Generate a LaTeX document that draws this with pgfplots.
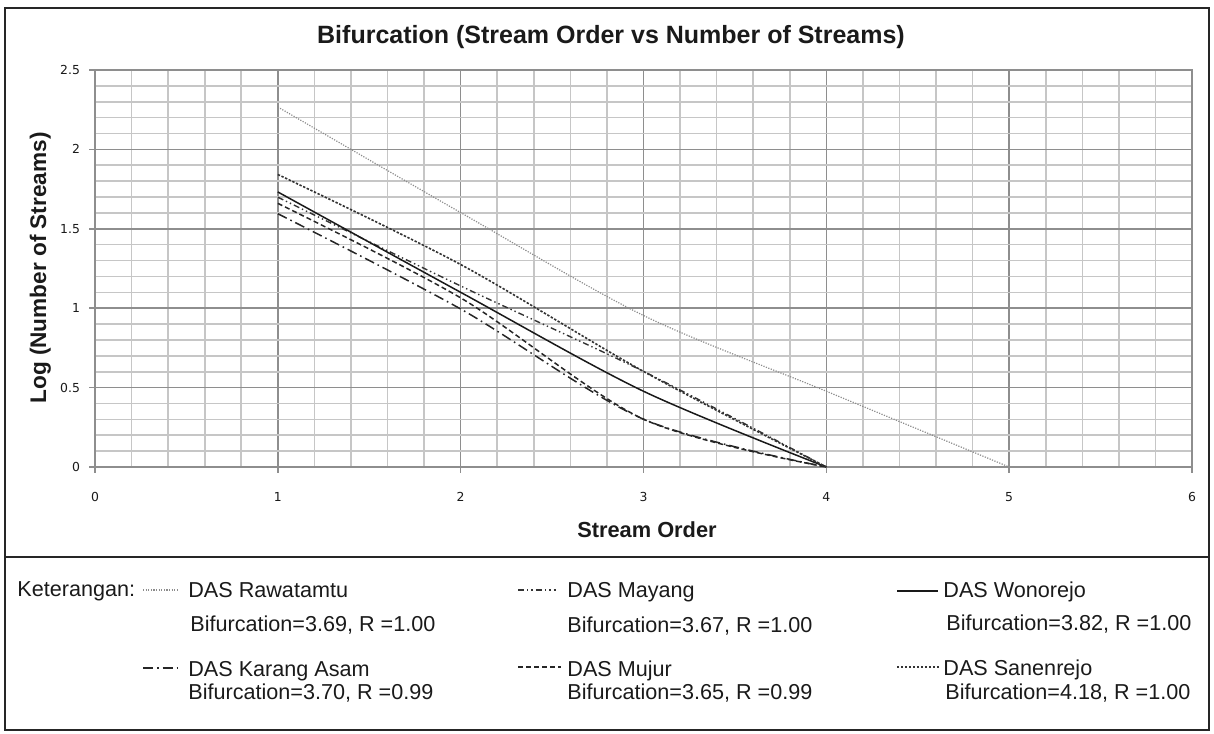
\documentclass[border=0pt]{standalone}
\usepackage{pgfplots}
\pgfplotsset{compat=1.18}
\usepackage{fontspec}
\setmainfont{Liberation Sans}
\newfontfamily\tickfont{DejaVu Sans}
\definecolor{majgrid}{HTML}{8E8E8E}
\definecolor{mingrid}{HTML}{C6C6C6}
\definecolor{txt}{HTML}{1A1A1A}
\tikzset{
  raw/.style={color=black!45, line width=0.6pt, dash pattern=on 0.6pt off 0.7pt},
  may/.style={color=black!80, line width=0.7pt, dash pattern=on 3pt off 1.5pt on 0.7pt off 1.5pt on 0.7pt off 1.5pt},
  won/.style={color=black!90, line width=0.75pt},
  kar/.style={color=black!85, line width=0.75pt, dash pattern=on 5pt off 2pt on 0.8pt off 2pt},
  muj/.style={color=black!85, line width=0.75pt, dash pattern=on 2.5pt off 1.5pt},
  san/.style={color=black!80, line width=0.8pt, dash pattern=on 1.2pt off 0.8pt},
}
\begin{document}
\begin{tikzpicture}
\path[use as bounding box] (0,0) rectangle (607pt,366.5pt);
\begin{axis}[
  at={(47.5pt,133pt)}, anchor=south west,
  scale only axis, width=548.5pt, height=198.5pt,
  xmin=0, xmax=6, ymin=0, ymax=2.5,
  xtick={0,1,2,3,4,5,6}, xticklabels={0,1,2,3,4,5,6},
  ytick={0,0.5,1,1.5,2,2.5}, yticklabels={0,0.5,1,1.5,2,2.5},
  minor x tick num=4, minor y tick num=4,
  grid=both,
  major grid style={majgrid, line width=0.8pt},
  minor grid style={mingrid, line width=0.8pt},
  axis line style={majgrid, line width=0.8pt},
  tick style={majgrid, line width=0.8pt},
  tick align=outside, major tick length=3pt, minor tick length=0pt,
  xtick pos=bottom, ytick pos=left,
  /pgf/number format/assume math mode=true,
  tick label style={font=\tickfont\fontsize{6.2}{7}\selectfont, text=txt},
  xticklabel style={yshift=-6pt},
  yticklabel style={xshift=-1pt},
  clip=false,
]
% DAS Rawatamtu
\addplot[raw, smooth, tension=0.5] coordinates {(1,2.267) (2,1.602) (3,0.954) (4,0.477) (5,0)};
% DAS Mayang
\addplot[may, smooth, tension=0.5] coordinates {(1,1.699) (2,1.140) (3,0.602) (4,0)};
% DAS Wonorejo
\addplot[won, smooth, tension=0.5] coordinates {(1,1.732) (2,1.100) (3,0.477) (4,0)};
% DAS Karang Asam
\addplot[kar, smooth, tension=0.5] coordinates {(1,1.595) (2,0.995) (3,0.301) (4,0)};
% DAS Mujur
\addplot[muj, smooth, tension=0.5] coordinates {(1,1.660) (2,1.065) (3,0.301) (4,0)};
% DAS Sanenrejo
\addplot[san, smooth, tension=0.5] coordinates {(1,1.842) (2,1.275) (3,0.602) (4,0)};
\end{axis}
\begin{scope}[x=0.5pt, y=-0.5pt, yshift=366.5pt]
  % frame
  \draw[line width=1pt, black!85] (5,8) rectangle (1209,730);
  \draw[line width=1pt, black!85] (5,557) -- (1209,557);
  % title and axis labels
  \node[anchor=base, inner sep=0pt, text=txt, font=\bfseries\fontsize{12.5}{14}\selectfont] at (611,44) {Bifurcation (Stream Order vs Number of Streams)};
  \node[anchor=base, inner sep=0pt, text=txt, font=\bfseries\fontsize{10.9}{12}\selectfont] at (647,538) {Stream Order};
  \node[anchor=base, rotate=90, inner sep=0pt, text=txt, font=\bfseries\fontsize{11.3}{12}\selectfont] at (46,268) {Log (Number of Streams)};
  % legend
  \begin{scope}[every node/.style={anchor=base west, inner sep=0pt, text=txt, font=\fontsize{10.8}{12}\selectfont}]
    \node at (17,597) {Keterangan:};
    \draw[raw] (143,590) -- (178,590);
    \node at (188,598) {DAS Rawatamtu};
    \node at (190,632) {Bifurcation=3.69, R =1.00};
    \draw[kar] (143,668) -- (178,668);
    \node at (188,676) {DAS Karang Asam};
    \node at (188,700) {Bifurcation=3.70, R =0.99};
    \draw[may] (518,590) -- (556,590);
    \node at (567,598) {DAS Mayang};
    \node at (567,633) {Bifurcation=3.67, R =1.00};
    \draw[muj] (518,667) -- (561,667);
    \node at (567,676) {DAS Mujur};
    \node at (567,700) {Bifurcation=3.65, R =0.99};
    \draw[won] (897,591) -- (938,591);
    \node at (943,598) {DAS Wonorejo};
    \node at (946,630) {Bifurcation=3.82, R =1.00};
    \draw[san] (897,667) -- (940,667);
    \node at (943,675) {DAS Sanenrejo};
    \node at (945,700) {Bifurcation=4.18, R =1.00};
  \end{scope}
\end{scope}
\end{tikzpicture}
\end{document}
